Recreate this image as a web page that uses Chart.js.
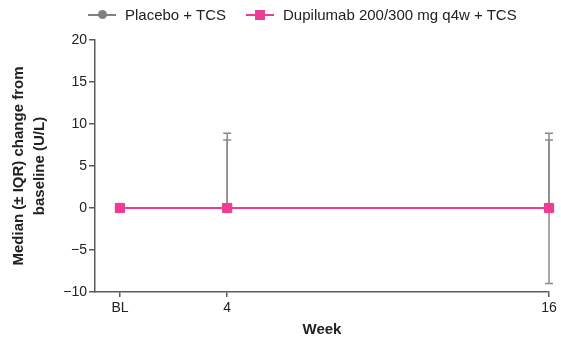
<!DOCTYPE html>
<html>
<head>
<meta charset="utf-8">
<script src="https://cdn.jsdelivr.net/npm/chart.js@4.4.1/dist/chart.umd.min.js"></script>
<style>
  html, body { margin: 0; padding: 0; background: #fff; }
  #wrap { position: relative; width: 561px; height: 343px; }
  #legend {
    position: absolute; top: 6px; left: 88px;
    display: flex; align-items: center;
    font-family: "Liberation Sans", Arial, sans-serif; font-size: 15px; color: #222;
  }
  .item { display: flex; align-items: center; margin-right: 20px; }
  .sym { position: relative; width: 28px; height: 12px; margin-right: 9px; }
  .sym .ln { position: absolute; left: 0; right: 0; top: 5px; height: 2px; }
  .sym .mk { position: absolute; left: 9px; top: 1px; width: 10px; height: 10px; }
</style>
</head>
<body>
<div id="wrap">
  <canvas id="chart" width="561" height="343"></canvas>
  <div id="legend"></div>
</div>
<script>
(function () {
  // weeks on the x axis (BL = 0)
  const weeks = [0, 4, 16];
  const weekLabels = { 0: 'BL', 4: '4', 16: '16' };

  const placeboMedian = [0, 0, 0];
  const placeboUpper = [0, 8.9, 8.9];
  const placeboLower = [0, 0, -9];

  const dupiMedian = [0, 0, 0];
  const dupiUpper = [0, 8.1, 8.1];
  const dupiLower = [0, 0, 0];

  const yTicks = [-10, -5, 0, 5, 10, 15, 20];

  const grey = '#808080';
  const pink = '#ee3c93';
  const axisColor = '#5a5a5a';
  const font = '"Liberation Sans", Arial, sans-serif';

  function points(values) {
    return weeks.map((w, i) => ({ x: w, y: values[i] }));
  }

  // IQR whiskers drawn via the chart's scales
  const errorBars = {
    id: 'errorBars',
    beforeDatasetsDraw(chart) {
      const ctx = chart.ctx;
      const xs = chart.scales.x;
      const ys = chart.scales.y;
      const sets = [
        { med: placeboMedian, lo: placeboLower, hi: placeboUpper },
        { med: dupiMedian, lo: dupiLower, hi: dupiUpper },
      ];
      ctx.save();
      ctx.strokeStyle = '#8a8a8a';
      ctx.lineWidth = 1.5;
      sets.forEach((s) => {
        weeks.forEach((w, i) => {
          const x = xs.getPixelForValue(w);
          [s.hi[i], s.lo[i]].forEach((v) => {
            if (v === s.med[i]) {
              return;
            }
            const y0 = ys.getPixelForValue(s.med[i]);
            const y1 = ys.getPixelForValue(v);
            ctx.beginPath();
            ctx.moveTo(x, y0);
            ctx.lineTo(x, y1);
            ctx.moveTo(x - 4, y1);
            ctx.lineTo(x + 4, y1);
            ctx.stroke();
          });
        });
      });
      ctx.restore();
    },
  };

  new Chart(document.getElementById('chart').getContext('2d'), {
    type: 'line',
    data: {
      datasets: [
        {
          label: 'Placebo + TCS',
          data: points(placeboMedian),
          borderColor: grey,
          backgroundColor: grey,
          borderWidth: 2,
          pointStyle: 'circle',
          pointRadius: 4,
          clip: false,
          order: 2,
        },
        {
          label: 'Dupilumab 200/300 mg q4w + TCS',
          data: points(dupiMedian),
          borderColor: pink,
          backgroundColor: pink,
          borderWidth: 2,
          pointStyle: 'rect',
          pointRadius: 6.5,
          pointBorderWidth: 1,
          clip: false,
          order: 1,
        },
      ],
    },
    options: {
      responsive: false,
      animation: false,
      events: [],
      layout: { padding: { top: 40, left: 5, right: 12, bottom: 4 } },
      plugins: {
        legend: { display: false },
        tooltip: { enabled: false },
      },
      scales: {
        x: {
          type: 'linear',
          min: -0.93,
          max: 16,
          afterBuildTicks(scale) {
            scale.ticks = weeks.map((w) => ({ value: w }));
          },
          afterFit(scale) {
            scale.height = 47;
          },
          ticks: {
            callback: (v) => weekLabels[v],
            color: '#222',
            font: { family: font, size: 14 },
            padding: 3,
            maxRotation: 0,
          },
          grid: { drawOnChartArea: false, drawTicks: true, tickLength: 5, color: axisColor, lineWidth: 1.5 },
          border: { display: true, color: axisColor, width: 1.5 },
          title: {
            display: true,
            text: 'Week',
            color: '#222',
            font: { family: font, size: 15, weight: 'bold' },
            padding: { top: 2, bottom: 0 },
          },
        },
        y: {
          min: -10,
          max: 20,
          afterBuildTicks(scale) {
            scale.ticks = yTicks.map((v) => ({ value: v }));
          },
          afterFit(scale) {
            scale.width = 90;
          },
          ticks: {
            callback: (v) => (v < 0 ? '\u2212' + Math.abs(v) : String(v)),
            color: '#222',
            font: { family: font, size: 14 },
            padding: 2,
          },
          grid: { drawOnChartArea: false, drawTicks: true, tickLength: 6, color: axisColor, lineWidth: 1.5 },
          border: { display: true, color: axisColor, width: 1.5 },
          title: {
            display: true,
            text: ['Median (\u00b1 IQR) change from', 'baseline (U/L)'],
            color: '#222',
            font: { family: font, size: 15, weight: 'bold', lineHeight: 1.35 },
            padding: { top: 4, bottom: 0 },
          },
        },
      },
    },
    plugins: [errorBars],
  });

  // legend with line-through-marker symbols
  const legend = document.getElementById('legend');
  [
    { label: 'Placebo + TCS', color: grey, round: true, size: 9 },
    { label: 'Dupilumab 200/300 mg q4w + TCS', color: pink, round: false, size: 10 },
  ].forEach((d) => {
    const item = document.createElement('div');
    item.className = 'item';
    const sym = document.createElement('span');
    sym.className = 'sym';
    const ln = document.createElement('span');
    ln.className = 'ln';
    ln.style.background = d.color;
    const mk = document.createElement('span');
    mk.className = 'mk';
    mk.style.background = d.color;
    mk.style.width = d.size + 'px';
    mk.style.height = d.size + 'px';
    mk.style.left = (14 - d.size / 2) + 'px';
    mk.style.top = (6 - d.size / 2) + 'px';
    if (d.round) {
      mk.style.borderRadius = '50%';
    }
    sym.appendChild(ln);
    sym.appendChild(mk);
    const txt = document.createElement('span');
    txt.textContent = d.label;
    item.appendChild(sym);
    item.appendChild(txt);
    legend.appendChild(item);
  });
})();
</script>
</body>
</html>
